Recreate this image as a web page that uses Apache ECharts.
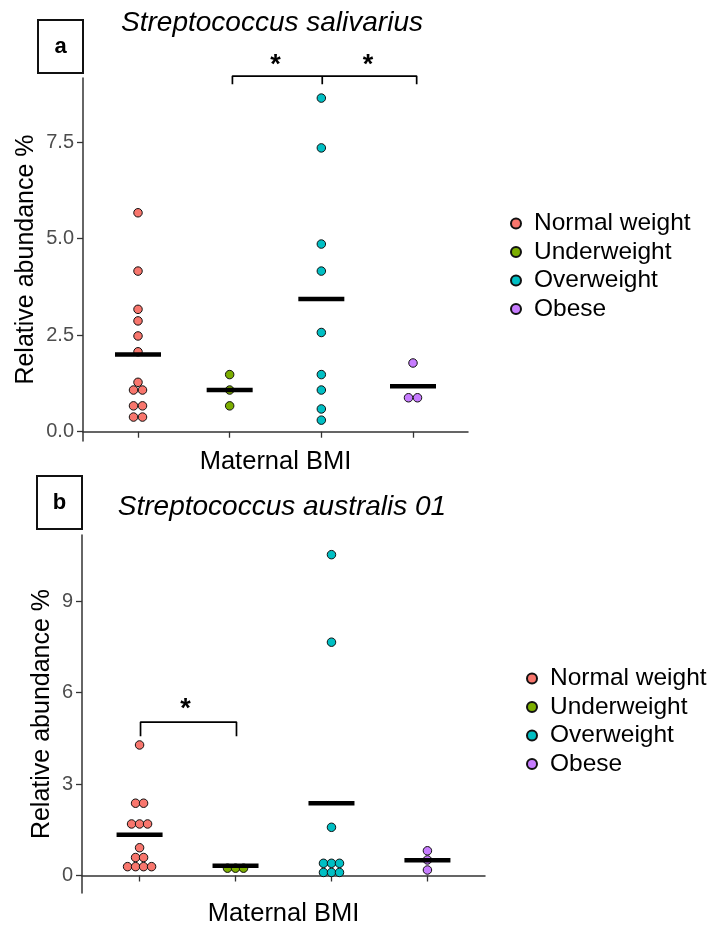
<!DOCTYPE html>
<html><head><meta charset="utf-8">
<script src="https://cdn.jsdelivr.net/npm/echarts@6/dist/echarts.min.js"></script>
<style>html,body{margin:0;padding:0;background:#fff}#c{width:713px;height:928px}</style>
</head><body><div id="c"></div>
<script>
// ---------- data ----------
const groups = ['Normal weight', 'Underweight', 'Overweight', 'Obese'];
const colors = ['#F8766D', '#7CAE00', '#00BFC4', '#C77CFF'];
const xLabelName = 'Maternal BMI';
const yLabelName = 'Relative abundance %';
const titleA = 'Streptococcus salivarius';
const titleB = 'Streptococcus australis 01';
// Panel a
const aNormal = [5.67, 4.16, 3.17, 2.87, 2.48, 2.07, 1.28, 1.08, 1.08, 0.67, 0.67, 0.38, 0.38];
const aUnder = [1.48, 1.08, 0.67];
const aOver = [8.64, 7.35, 4.86, 4.16, 2.57, 1.48, 1.08, 0.59, 0.30];
const aObese = [1.78, 0.88, 0.88];
const aMeans = [2.00, 1.08, 3.44, 1.18];
const aTicks = [0, 2.5, 5, 7.5];
const aBracket = [[2.03, 9.0], [2.03, 9.21], [4.04, 9.21], [4.04, 9.0]];
const aBracketMid = [[3.01, 9.21], [3.01, 9.0]];
const aStars = [[2.5, 9.62], [3.51, 9.62]];
// Panel b
const bNormal = [4.28, 2.37, 2.37, 1.69, 1.69, 1.69, 0.91, 0.59, 0.59, 0.29, 0.29, 0.29, 0.29];
const bUnder = [0.24, 0.24, 0.24];
const bOver = [10.52, 7.65, 1.58, 0.40, 0.40, 0.40, 0.10, 0.10, 0.10];
const bObese = [0.81, 0.51, 0.18];
const bMeans = [1.34, 0.32, 2.37, 0.50];
const bTicks = [0, 3, 6, 9];
const bBracket = [[1.01, 4.57], [1.01, 5.03], [2.01, 5.03], [2.01, 4.57]];
const bStars = [[1.48, 5.62]];
const catPositions = [1, 2, 3, 4];

// ---------- helpers ----------
const FONT = 'Liberation Sans, Arial, Helvetica, sans-serif';
function dodge(vals, x, spacing) {
  const counts = {}, seen = {};
  vals.forEach(v => { counts[v] = (counts[v] || 0) + 1; });
  return vals.map(v => {
    const n = counts[v]; const k = seen[v] || 0; seen[v] = k + 1;
    return { value: [x, v], symbolOffset: [(k - (n - 1) / 2) * spacing, 0] };
  });
}
function dotSeries(name, vals, idx, panel, spacing) {
  return {
    type: 'scatter', name: name, xAxisIndex: panel, yAxisIndex: panel,
    data: dodge(vals, catPositions[idx], spacing),
    symbol: 'circle', symbolSize: 8.5,
    itemStyle: { color: colors[idx], borderColor: '#111', borderWidth: 1, opacity: 1 },
    emphasis: { disabled: true }, z: 3
  };
}
function meanSeries(means, panel) {
  return {
    type: 'scatter', xAxisIndex: panel, yAxisIndex: panel,
    data: means.map((m, i) => [catPositions[i], m]),
    symbol: 'rect', symbolSize: [46, 4.5],
    itemStyle: { color: '#000', opacity: 1 }, emphasis: { disabled: true }, z: 5, silent: true
  };
}
function lineSeries(pts, panel) {
  return {
    type: 'line', xAxisIndex: panel, yAxisIndex: panel, data: pts,
    symbol: 'none', clip: false, silent: true,
    lineStyle: { color: '#000', width: 1.7 }, z: 4
  };
}
function starSeries(pts, panel) {
  return {
    type: 'scatter', xAxisIndex: panel, yAxisIndex: panel, data: pts,
    symbolSize: 0, clip: false, silent: true,
    itemStyle: { opacity: 1 },
    label: { show: true, position: 'inside', formatter: '*', fontSize: 27, fontWeight: 'bold', color: '#000', fontFamily: FONT, offset: [0, 5] },
    z: 4
  };
}
function yAxis(gi, ticks, max, min, gap, fmt) {
  return {
    type: 'value', gridIndex: gi, min: min, max: max,
    name: yLabelName, nameLocation: 'middle', nameRotate: 90, nameGap: gap,
    nameMoveOverlap: false,
    nameTextStyle: { fontSize: 25, color: '#000', fontFamily: FONT },
    axisLine: { show: true, lineStyle: { color: '#333', width: 1.5 } },
    axisTick: { show: true, customValues: ticks, length: 6, lineStyle: { color: '#333', width: 1.3 } },
    axisLabel: { customValues: ticks, formatter: fmt, fontSize: 20, color: '#4D4D4D', margin: 9, fontFamily: FONT },
    splitLine: { show: false }
  };
}
function xAxis(gi) {
  return {
    type: 'value', gridIndex: gi, min: 0.4, max: 4.6,
    name: xLabelName, nameLocation: 'middle', nameGap: 8,
    nameTextStyle: { fontSize: 25.5, color: '#000', fontFamily: FONT, verticalAlign: 'top' },
    axisLine: { show: true, lineStyle: { color: '#333', width: 1.5 } },
    axisTick: { show: true, customValues: catPositions, length: 6, lineStyle: { color: '#333', width: 1.3 } },
    axisLabel: { show: false },
    splitLine: { show: false }
  };
}

const series = [];
[aNormal, aUnder, aOver, aObese].forEach((v, i) => series.push(dotSeries(groups[i], v, i, 0, 9)));
series.push(meanSeries(aMeans, 0));
series.push(lineSeries(aBracket, 0));
series.push(lineSeries(aBracketMid, 0));
series.push(starSeries(aStars, 0));
[bNormal, bUnder, bOver, bObese].forEach((v, i) => series.push(dotSeries(groups[i], v, i, 1, 8)));
series.push(meanSeries(bMeans, 1));
series.push(lineSeries(bBracket, 1));
series.push(starSeries(bStars, 1));

function legend(left, top) {
  return {
    data: groups, orient: 'vertical', left: left, top: top,
    icon: 'circle', itemWidth: 10, itemHeight: 10, itemGap: 3.5,
    selectedMode: false,
    textStyle: { fontSize: 24.5, color: '#000', fontFamily: FONT, lineHeight: 24, padding: [0, 0, 0, 8] }
  };
}
function box(x, y, w, h, letter) {
  return [
    { type: 'rect', shape: { x: x, y: y, width: w, height: h }, style: { fill: '#fff', stroke: '#111', lineWidth: 2 } },
    { type: 'text', x: x + w / 2, y: y + h / 2, style: { text: letter, font: 'bold 22px ' + FONT, fill: '#000', textAlign: 'center', textVerticalAlign: 'middle' } }
  ];
}
function title(x, y, text) {
  return { type: 'text', x: x, y: y, style: { text: text, font: 'italic 28px ' + FONT, fill: '#000', textAlign: 'center', textVerticalAlign: 'middle' } };
}

const chart = echarts.init(document.getElementById('c'), null, { renderer: 'canvas' });
chart.setOption({
  animation: false,
  backgroundColor: '#fff',
  textStyle: { fontFamily: FONT },
  grid: [
    { left: 83, top: 78, width: 385, height: 363 },
    { left: 82, top: 535, width: 403, height: 362 }
  ],
  xAxis: [xAxis(0), xAxis(1)],
  yAxis: [
    yAxis(0, aTicks, 9.16, -0.24, 44, v => v.toFixed(1)),
    yAxis(1, bTicks, 11.165, -0.574, 27, v => String(v))
  ],
  legend: [legend(505, 206), legend(521, 661)],
  series: series,
  graphic: [].concat(
    box(38, 20, 45, 53, 'a'),
    box(37, 476, 45, 53, 'b'),
    [title(272, 23, titleA), title(282, 507, titleB)]
  )
});
</script>
</body></html>
